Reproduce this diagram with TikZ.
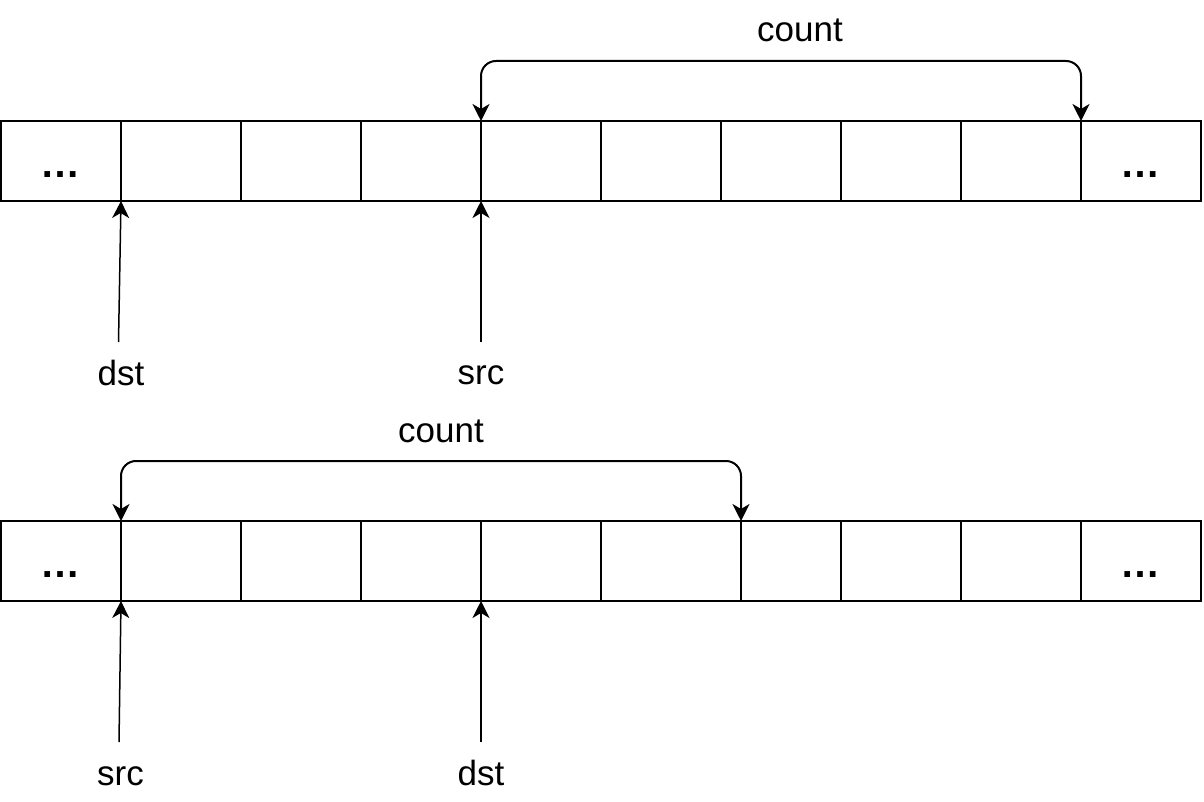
\documentclass[tikz,border=0pt]{standalone}
\usepackage{fontspec}
\setmainfont{Liberation Sans}
\usetikzlibrary{arrows.meta}
\begin{document}
\begin{tikzpicture}[x=1pt,y=-1pt,
  cell/.style={draw, line width=2pt, minimum height=80pt,
    inner sep=0pt, outer sep=0pt, anchor=north west},
  lbl/.style={font=\fontsize{35}{42}\selectfont, inner sep=0pt, anchor=base},
  dotstxt/.style={font=\fontsize{40}{48}\selectfont\bfseries, inner sep=0pt, anchor=base},
  tip/.tip={Stealth[length=17pt,width=17pt,inset=5pt]},
  ptr/.style={line width=1.5pt, -tip},
  span/.style={line width=2pt, rounded corners=15pt, tip-tip}]
\useasboundingbox (0,0) rectangle (1204,802);
% top row
\foreach \i in {0,...,9} \node[cell, minimum width=120pt] (t\i) at ({1+120*\i},121) {};
\node[dotstxt] (tdl) at (60,177.5) {…};
\node[dotstxt] (tdr) at (1140,177.5) {…};
\node[lbl] (tcount) at (800,42) {count};
\draw[span] (t4.north west) -- ([yshift=60pt]t4.north west) -| (t9.north west);
\node[lbl] (tdst) at (121,385) {dst};
\node[lbl] (tsrc) at (481,384) {src};
\draw[ptr] ([xshift=-2.5pt,yshift=43pt]tdst.base) -- (t1.south west);
\draw[ptr] ([yshift=42pt]tsrc.base) -- (t4.south west);
% bottom row
\foreach \i/\x/\w in {0/1/120,1/121/120,2/241/120,3/361/120,4/481/120,5/601/140,6/741/100,7/841/120,8/961/120,9/1081/120}
  \node[cell, minimum width=\w pt] (b\i) at (\x,521) {};
\node[dotstxt] (bdl) at (60,577.5) {…};
\node[dotstxt] (bdr) at (1140,577.5) {…};
\node[lbl] (bcount) at (441,442) {count};
\draw[span] (b1.north west) -- ([yshift=60pt]b1.north west) -| (b6.north west);
\node[lbl] (bsrc) at (120.5,785) {src};
\node[lbl] (bdst) at (481,785) {dst};
\draw[ptr] ([xshift=-1.5pt,yshift=43pt]bsrc.base) -- (b1.south west);
\draw[ptr] ([yshift=43pt]bdst.base) -- (b4.south west);
\end{tikzpicture}
\end{document}
